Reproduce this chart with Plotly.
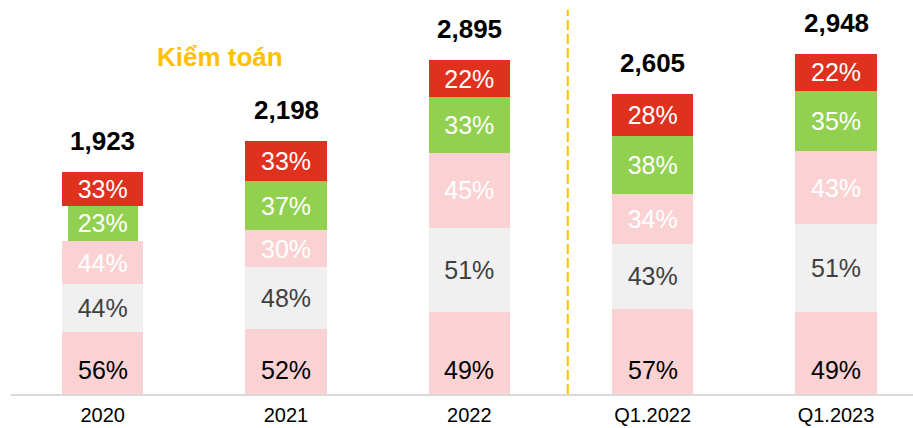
import plotly.graph_objects as go

categories = ["2020", "2021", "2022", "Q1.2022", "Q1.2023"]
totals = [1923, 2198, 2895, 2605, 2948]

# stacked segment values (bottom -> top)
seg1 = [534, 560, 708, 740, 709]      # bottom pink
seg2 = [420, 538, 735, 559, 765]      # light gray
seg3 = [370, 327, 648, 439, 630]      # pink (white text)
seg4 = [310, 419, 486, 500, 526]      # green
seg5 = [289, 354, 318, 367, 318]      # red

lab1 = ["56%", "52%", "49%", "57%", "49%"]
lab2 = ["44%", "48%", "51%", "43%", "51%"]
lab3 = ["44%", "30%", "45%", "34%", "43%"]
lab4 = ["23%", "37%", "33%", "38%", "35%"]
lab5 = ["33%", "33%", "22%", "28%", "22%"]

title_text = "Kiểm toán"

FONT = "Liberation Sans, Arial, sans-serif"
BW = 0.444
green_w = [0.38, BW, BW, BW, BW]

fig = go.Figure()

def add(vals, labels, color, txtcolor, width, show_text=True):
    fig.add_trace(go.Bar(
        x=categories, y=vals, text=labels if show_text else None, width=width,
        marker=dict(color=color, line=dict(width=0)),
        textposition="inside" if show_text else "none", insidetextanchor="middle",
        constraintext="none", cliponaxis=False,
        textfont=dict(family=FONT, size=25, color=txtcolor),
        hoverinfo="skip", showlegend=False,
    ))

add(seg1, lab1, "#FAD2D3", "#000000", BW, show_text=False)
add(seg2, lab2, "#F0F0F0", "#404040", BW)
add(seg3, lab3, "#FAD2D3", "#FFFFFF", BW)
add(seg4, lab4, "#92D050", "#FFFFFF", green_w)
add(seg5, lab5, "#E0301E", "#FFFFFF", BW)

# bottom-segment labels sit near the base
for i, lab in enumerate(lab1):
    fig.add_annotation(x=i, y=0, text=lab, showarrow=False,
                       yanchor="middle", yshift=24,
                       font=dict(family=FONT, size=25, color="#000000"))

for i, t in enumerate(totals):
    fig.add_annotation(x=i, y=t, text=f"<b>{t:,}</b>", showarrow=False,
                       yanchor="middle", yshift=31,
                       font=dict(family=FONT, size=26, color="#000000"))

fig.add_annotation(x=0.64, y=2923, text=f"<b>{title_text}</b>", showarrow=False,
                   xanchor="center", yanchor="middle",
                   font=dict(family=FONT, size=26, color="#FFC000"))

fig.add_shape(type="line", xref="x", yref="paper", x0=2.537, x1=2.537, y0=0, y1=0.975,
              line=dict(color="#FFC000", width=2, dash="10px,4px"))

fig.update_layout(
    width=913, height=428,
    margin=dict(l=11, r=0, t=0, b=34),
    barmode="stack",
    plot_bgcolor="white", paper_bgcolor="white",
    xaxis=dict(type="category", range=[-0.5, 4.42], showgrid=False, showline=True,
               automargin=False,
               linecolor="#D9D9D9", linewidth=2, ticks="", ticklabelstandoff=2,
               tickfont=dict(family=FONT, size=20, color="#000000")),
    yaxis=dict(range=[0, 3417], visible=False, showgrid=False, automargin=False),
)

fig.write_html("out.html", config={"displayModeBar": False},
               post_script="document.body.style.margin='0';")
